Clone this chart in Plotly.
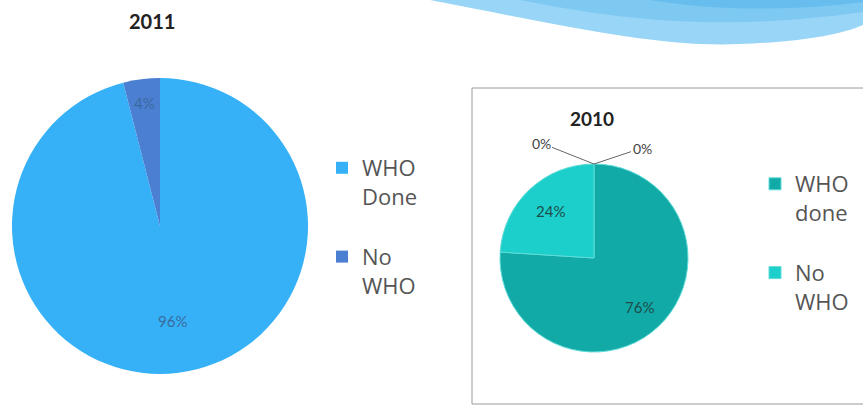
import math
import plotly.graph_objects as go

W, H = 863, 407

# ---- data ----
labels_2011 = ["WHO<br>Done", "No<br>WHO"]
values_2011 = [96, 4]
labels_2010 = ["WHO<br>done", "No<br>WHO", "x1", "x2"]
values_2010 = [76, 24, 0, 0]

colors_2011 = ["#36b1f7", "#4a7fd2"]
colors_2010 = ["#12aaa6", "#1ccfcb"]

# pie geometry in pixels (left, top, right, bottom)
dom_l = (12, 78, 308, 374)
dom_r = (500, 164, 688, 352)

ZWS = "\u200b"  # keeps the 2010 legend entries distinct from the 2011 ones
SPACER = "<br>&nbsp;"


def legend_names(labels, tag):
    out = []
    for i, lab in enumerate(labels):
        name = lab + tag
        if i < len(labels) - 1:
            name += SPACER
        out.append(name)
    return out


def px_dom(d):
    return dict(x=[d[0] / W, d[2] / W], y=[1 - d[3] / H, 1 - d[1] / H])


fig = go.Figure()
fig.add_trace(go.Pie(
    labels=legend_names(labels_2011, ""), values=values_2011, sort=False, direction="clockwise",
    rotation=0, marker=dict(colors=colors_2011, line=dict(color="#36b1f7", width=0)),
    textinfo="none", hoverinfo="percent", domain=px_dom(dom_l), legend="legend",
))
fig.add_trace(go.Pie(
    labels=legend_names(labels_2010[:2], ZWS), values=values_2010[:2], sort=False,
    direction="clockwise", rotation=0,
    marker=dict(colors=colors_2010, line=dict(color="#5fdcd8", width=1)),
    textinfo="none", hoverinfo="percent", domain=px_dom(dom_r), legend="legend2",
))

annotations = []


def pct_labels(values, d, fracs, color, size):
    cx = (d[0] + d[2]) / 2
    cy = (d[1] + d[3]) / 2
    r = (d[2] - d[0]) / 2
    tot = sum(values)
    start = 0
    for v, f in zip(values, fracs):
        if v == 0:
            continue
        mid = (start + v / 2) / tot * 2 * math.pi
        start += v
        x = cx + f * r * math.sin(mid)
        y = cy - f * r * math.cos(mid)
        annotations.append(dict(x=x / W, y=1 - y / H, xref="paper", yref="paper",
                                xanchor="center", yanchor="middle",
                                text=f"{round(v / tot * 100)}%", showarrow=False,
                                font=dict(family="Lato", size=size, color=color)))


pct_labels(values_2011, dom_l, [0.65, 0.84], "#3a6b9e", 15)
pct_labels(values_2010, dom_r, [0.71, 0.68], "#1e4d4c", 15)

# zero-value labels of 2010 with leader lines to the pie top
cx_r = (dom_r[0] + dom_r[2]) / 2
top_r = dom_r[1]
zero_offsets = [(-53, -21), (48, -16)]
for v, (ax, ay) in zip(values_2010[2:], zero_offsets):
    annotations.append(dict(x=cx_r / W, y=1 - top_r / H, xref="paper", yref="paper",
                            text=f"{v}%", showarrow=True, arrowhead=0, arrowwidth=1,
                            arrowcolor="#666666", ax=ax, ay=ay, standoff=0, startstandoff=0,
                            font=dict(family="Lato", size=14, color="#444444")))

# titles
annotations.append(dict(x=152 / W, y=1 - 21 / H, xref="paper", yref="paper", text="<b>2011</b>",
                        xanchor="center", yanchor="middle", showarrow=False,
                        font=dict(family="Lato", size=20, color="#222222")))
annotations.append(dict(x=592 / W, y=1 - 118 / H, xref="paper", yref="paper", text="<b>2010</b>",
                        xanchor="center", yanchor="middle", showarrow=False,
                        font=dict(family="Lato", size=19, color="#222222")))


def pth(pts):
    s = f"M {pts[0][0]/W} {1-pts[0][1]/H}"
    for i in range(1, len(pts) - 2, 3):
        s += " C " + ", ".join(f"{x/W} {1-y/H}" for x, y in pts[i:i + 3])
    return s + f" L 1 1 Z"


shapes = [
    # decorative swoosh
    dict(type="path", xref="paper", yref="paper", layer="below",
         path=pth([(430, 0), (560, 25), (660, 48), (740, 44), (800, 42), (840, 35), (863, 25)]),
         fillcolor="#98d5f6", line=dict(width=0)),
    dict(type="path", xref="paper", yref="paper", layer="below",
         path=pth([(520, 0), (620, 20), (720, 32), (863, 12)]),
         fillcolor="#7dc9f2", line=dict(width=0)),
    dict(type="path", xref="paper", yref="paper", layer="below",
         path=pth([(650, 0), (720, 12), (800, 10), (863, 2)]),
         fillcolor="#66bdee", line=dict(width=0)),
    # frame of the 2010 chart
    dict(type="rect", xref="paper", yref="paper", x0=472 / W, x1=875 / W,
         y0=1 - 404 / H, y1=1 - 88 / H, line=dict(color="#9a9a9a", width=1)),
]

legend_font = dict(family="Open Sans", size=22, color="#555555")
fig.update_layout(
    width=W, height=H, margin=dict(l=0, r=0, t=0, b=0),
    paper_bgcolor="white", plot_bgcolor="white",
    annotations=annotations, shapes=shapes,
    legend=dict(x=322 / W, y=1 - 147 / H, xanchor="left", yanchor="top", valign="top",
                font=legend_font, bgcolor="rgba(0,0,0,0)", itemwidth=30),
    legend2=dict(x=755 / W, y=1 - 163 / H, xanchor="left", yanchor="top", valign="top",
                 font=legend_font, bgcolor="rgba(0,0,0,0)", itemwidth=30),
)
fig.write_html("out.html")
